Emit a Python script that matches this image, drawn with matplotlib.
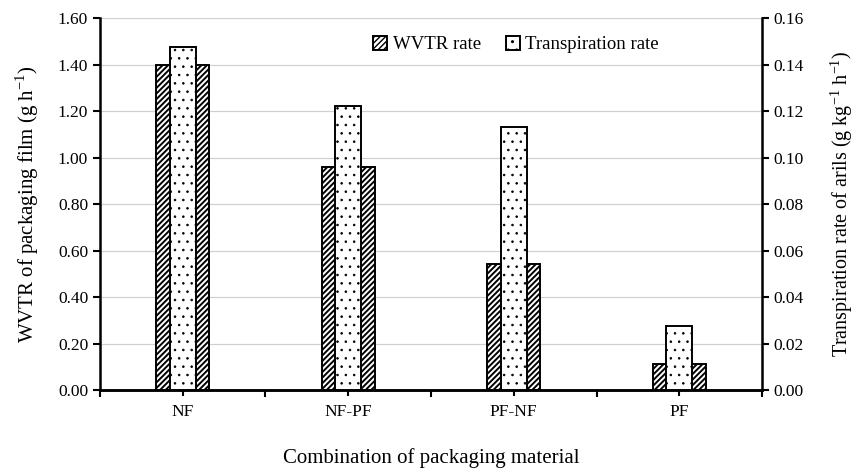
import matplotlib
matplotlib.use('Agg')
import matplotlib.pyplot as plt
import numpy as np

# --- dados ---
categorias = ['NF', 'NF-PF', 'PF-NF', 'PF']
wvtr = [1.40, 0.96, 0.54, 0.11]              # g h-1
transpiracao = [0.1475, 0.122, 0.113, 0.0275]  # g kg-1 h-1

plt.rcParams['font.family'] = ['Liberation Serif', 'DejaVu Serif']
plt.rcParams['font.size'] = 12.5
plt.rcParams['mathtext.fontset'] = 'custom'
plt.rcParams['mathtext.rm'] = 'Liberation Serif'

fig = plt.figure(figsize=(8.56, 4.69), dpi=100)
ax = fig.add_axes([0.1168, 0.1684, 0.7734, 0.7932])
ax2 = ax.twinx()

x = np.arange(len(categorias))

with plt.rc_context({'hatch.linewidth': 1.4}):
    b1 = ax.bar(x, wvtr, width=0.32, color='white', edgecolor='black',
                hatch='//////', linewidth=1.4, label='WVTR rate', zorder=3)
with plt.rc_context({'hatch.linewidth': 0.6}):
    b2 = ax2.bar(x, transpiracao, width=0.155, color='white', edgecolor='black',
                 hatch='..', linewidth=1.4, label='Transpiration rate', zorder=3)

# eixo esquerdo
ax.set_ylim(0, 1.6)
ax.set_yticks(np.arange(0, 1.61, 0.2))
ax.set_yticklabels([f'{v:.2f}' for v in np.arange(0, 1.61, 0.2)])
ax.yaxis.grid(True, color='#d0d0d0', linewidth=0.9, zorder=0)
ax.set_axisbelow(True)
ax.set_ylabel(r'WVTR of packaging film (g h$^{\mathrm{-1}}$)', fontsize=15, labelpad=12)

# eixo direito
ax2.set_ylim(0, 0.16)
ax2.set_yticks(np.arange(0, 0.161, 0.02))
ax2.set_yticklabels([f'{v:.2f}' for v in np.arange(0, 0.161, 0.02)])
ax2.set_ylabel(r'Transpiration rate of arils (g kg$^{\mathrm{-1}}$ h$^{\mathrm{-1}}$)',
               fontsize=14.5, labelpad=17)

# eixo x
ax.set_xlim(-0.5, len(categorias) - 0.5)
ax.set_xticks(np.arange(-0.5, len(categorias), 1.0))
ax.set_xticklabels([])
ax.set_xticks(x, minor=True)
ax.set_xticklabels(categorias, minor=True)
ax.tick_params(axis='x', which='major', length=5, width=1.5, direction='out')
ax.tick_params(axis='x', which='minor', length=4, width=1.5, direction='out', pad=6)
ax.set_xlabel('Combination of packaging material', fontsize=15, labelpad=20)

for a in (ax, ax2):
    a.spines['top'].set_visible(False)
    for s in ('left', 'right', 'bottom'):
        a.spines[s].set_linewidth(1.8)
    a.tick_params(axis='y', length=5, width=1.5)
ax.spines['right'].set_visible(False)
ax2.spines['left'].set_visible(False)

fig.legend(handles=[b1, b2], loc='center', bbox_to_anchor=(0.603, 0.905),
           ncol=2, frameon=False, handlelength=0.75, handleheight=0.75,
           handletextpad=0.3, columnspacing=1.3, fontsize=13.5)

plt.savefig('out.png', dpi=100)
